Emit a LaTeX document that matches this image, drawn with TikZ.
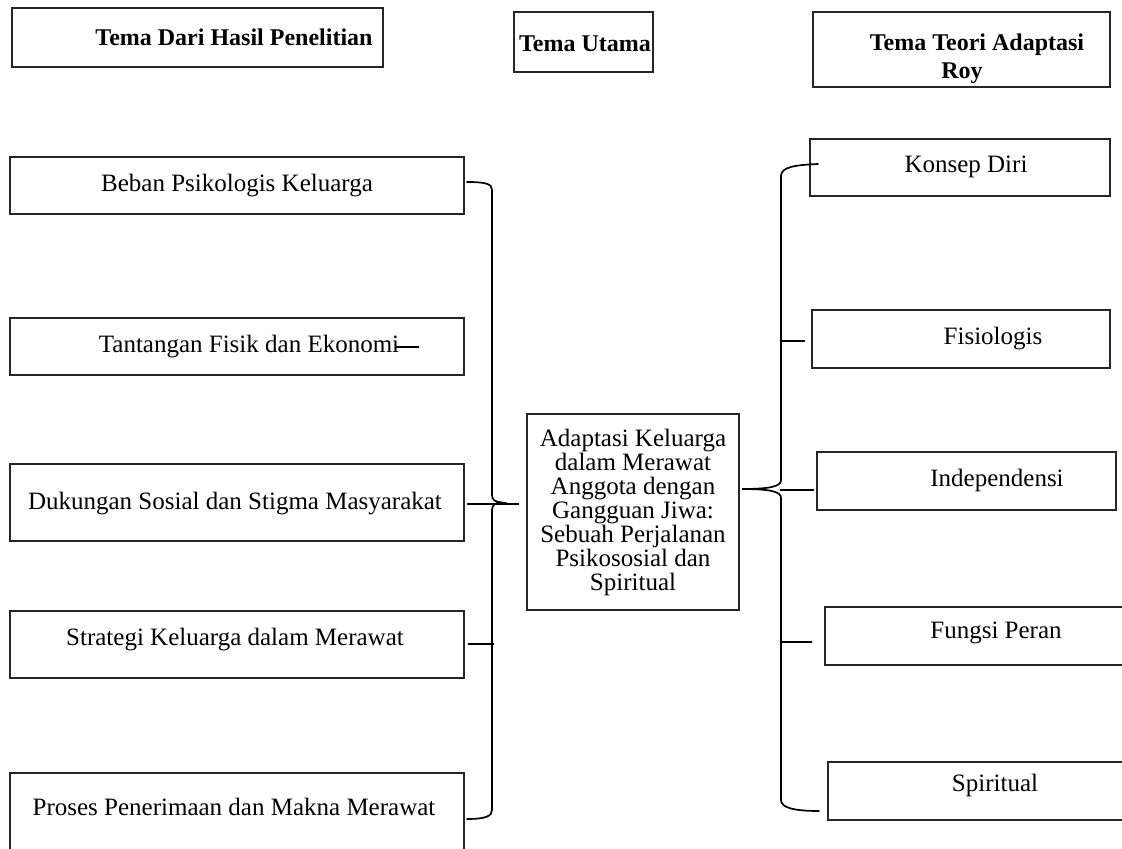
\documentclass[tikz,border=0pt]{standalone}
\usepackage{fontspec}
\setmainfont{Liberation Serif}
\usetikzlibrary{fit}
\tikzset{kotak/.style={draw=black!85, line width=0.55pt, inner sep=0pt},
teks/.style={font=\fontsize{12.5}{12}\selectfont, inner sep=0pt, align=center},
judul/.style={teks, font=\fontsize{12}{14}\selectfont\bfseries},
%garis penghubung (kurung kurawal)
kurung/.style={line width=0.85pt, line cap=round}}

\begin{document}
\begin{tikzpicture}[x=0.5pt,y=-0.5pt]
\useasboundingbox (0,0) rectangle (1122,849);

% judul kolom
\node[kotak, fit={(12,8)(383,67)}] (hasil) {};
\node[judul] (hasil-t) at (234,37) {Tema Dari Hasil Penelitian};
\node[kotak, fit={(514,12)(653,72)}] (utama) {};
\node[judul] (utama-t) at (585,44) {Tema Utama};
\node[kotak, fit={(813,12)(1110,87)}] (teori) {};
\node[judul] (teori-t) at (962,59) {\hspace*{15pt}Tema Teori Adaptasi\\Roy};

% tema hasil penelitian
\foreach \nama/\ya/\yb/\tx/\ty/\isi in {
  beban/157/214/237/186/Beban Psikologis Keluarga,
  tantangan/318/375/249/347/Tantangan Fisik dan Ekonomi,
  dukungan/464/541/235/504/Dukungan Sosial dan Stigma Masyarakat,
  strategi/611/678/235/640/Strategi Keluarga dalam Merawat,
  proses/773/880/234/807/Proses Penerimaan dan Makna Merawat}{
  \node[kotak, fit={(10,\ya)(464,\yb)}] (\nama) {};
  \node[teks] (\nama-t) at (\tx,\ty) {\isi};
}

% tema teori adaptasi roy
\foreach \nama/\xa/\ya/\xb/\yb/\tx/\ty/\isi in {
  konsep/810/139/1110/196/966/167/Konsep Diri,
  fisiologis/812/310/1110/368/993/339/Fisiologis,
  independensi/817/452/1116/510/997/480/Independensi,
  fungsi/825/607/1140/665/996/633/Fungsi Peran,
  spiritual/828/762/1140/820/995/785/Spiritual}{
  \node[kotak, fit={(\xa,\ya)(\xb,\yb)}] (\nama) {};
  \node[teks] (\nama-t) at (\tx,\ty) {\isi};
}

% tema utama
\node[kotak, fit={(527,414)(739,610)}] (pusat) {};
\node[teks] (pusat-t) at (633,512) {Adaptasi Keluarga\\dalam Merawat\\Anggota dengan\\Gangguan Jiwa:\\Sebuah Perjalanan\\Psikososial dan\\Spiritual};

% kurung kiri
\draw[kurung] (467,182) .. controls (486,182) and (492,184) .. (492,190) -- (492,495)
  .. controls (492,500) and (495,502) .. (502,502.5) .. controls (495,503) and (492,505) .. (492,510)
  -- (492,810) .. controls (492,816) and (486,819) .. (467,819);
\draw[kurung] ([shift={(3,1.5)}]dukungan.east) -- ++(51,0);
\draw[kurung] ([shift={(4,-0.5)}]strategi.east) -- ++(25,0);
\draw[kurung] ([shift={(-3,0)}]tantangan-t.east) -- ++(22,0);

% kurung kanan
\draw[kurung] (818,164) .. controls (795,165) and (781,167) .. (781,176) -- (781,480)
  .. controls (781,486) and (772,489) .. (742,489) .. controls (772,489) and (781,492) .. (781,498)
  -- (781,800) .. controls (781,808) and (795,811) .. (819,811);
\draw[kurung] ([shift={(-7,2)}]fisiologis.west) -- ++(-24,0);
\draw[kurung] ([shift={(-3,9)}]independensi.west) -- ++(-33,0);
\draw[kurung] ([shift={(-13,6)}]fungsi.west) -- ++(-31,0);

\end{tikzpicture}
\end{document}
